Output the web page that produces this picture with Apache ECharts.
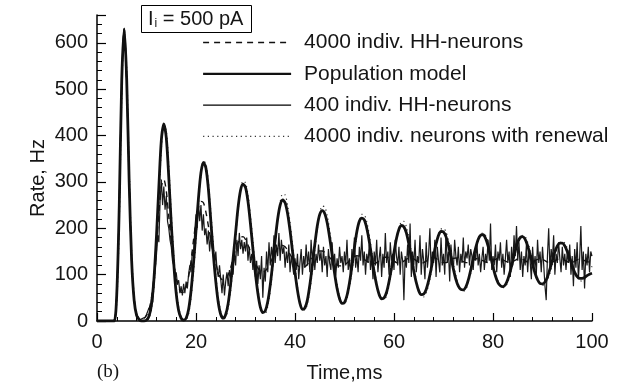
<!DOCTYPE html>
<html>
<head>
<meta charset="utf-8">
<script src="https://cdn.jsdelivr.net/npm/echarts@6/dist/echarts.min.js"></script>
<style>
  html, body { margin: 0; padding: 0; background: #fff; }
  #main { width: 631px; height: 388px; }
</style>
</head>
<body>
<div id="main"></div>
<script>
// time steps (ms) of the sampled curves
var step05 = 0.5;
var step025 = 0.25;

// Population model (thick), every 0.5 ms from 0 to 100
var popModel = [
  0,0,0,0,0,0,0,0,60,250,
  520,630,520,300,130,45,12,3,0,0,
  2,10,35,90,180,290,390,425,395,310,
  210,125,60,22,6,2,6,25,65,125,
  195,265,320,342,330,285,215,145,85,40,
  14,6,14,38,80,135,190,245,282,295,
  288,258,210,155,103,60,30,18,22,42,
  78,125,175,220,250,261,255,232,195,150,
  105,66,38,25,28,45,78,120,165,205,
  230,238,232,212,180,142,103,70,48,38,
  40,55,82,118,158,193,215,222,218,200,
  172,138,105,77,57,48,50,62,85,115,
  148,178,198,206,203,190,166,137,108,83,
  65,57,58,68,87,112,140,166,185,193,
  192,182,163,138,112,90,75,68,67,73,
  88,110,135,158,176,185,186,178,162,140,
  117,97,83,76,74,78,90,108,130,152,
  170,180,182,176,162,143,122,103,89,81,
  80,84,95,112,131,149,162,168,168,162,
  150,135,119,105,96,92,92,94,98,101,
  103
];

// 4000 indiv. HH-neurons (dashed), every 0.5 ms
var hh4000 = [
  0,0,0,0,0,0,0,0,60,250,
  520,630,515,300,130,45,15,6,4,6,
  12,25,50,95,160,235,290,305,280,225,
  170,125,92,72,62,62,72,95,130,175,
  215,245,258,255,235,205,175,148,125,105,
  92,88,90,100,115,135,155,170,180,182,
  176,164,150,136,124,114,108,106,108,115,
  125,137,148,157,162,163,160,153,144,135,
  127,120,116,115,117,122,129,136,143,148,
  151,151,148,143,137,131,125,121,119,119,
  121,125,130,135,139,141,140,137,133,129,
  126,124,124,126,130,134,137,138,136,133,
  129,126,125,126,129,133,136,136,134,130,
  127,125,126,129,133,136,137,135,131,128,
  126,126,128,132,135,136,134,131,128,126,
  126,128,131,134,135,133,130,127,126,127,
  130,133,135,135,132,129,127,126,128,131,
  134,135,133,130,127,126,127,130,133,134,
  133,130,127,126,127,130,133,135,134,131,
  128,126,126,129,132,134,133,130,128,127,
  128
];

// 400 indiv. HH-neurons (thin, noisy), every 0.25 ms
var hh400 = [
  0,0,0,0,0,0,0,0,0,0,0,0,0,0,2,15,60,140,250,390,
  520,605,630,600,515,410,300,205,130,80,45,25,14,8,5,3,4,6,3,8,
  14,10,28,22,48,40,80,110,140,185,170,260,305,250,290,240,270,215,200,175,
  160,130,120,95,105,80,88,60,75,55,80,60,85,70,100,120,105,150,140,195,
  230,200,255,215,250,195,230,185,200,165,195,150,185,160,140,120,150,110,95,120,
  90,60,100,55,85,105,75,110,90,125,100,150,120,175,140,190,155,175,145,170,
  150,180,130,160,125,145,110,140,95,130,80,120,90,140,50,115,85,150,105,170,
  120,160,135,185,125,165,140,190,130,175,145,160,115,150,125,165,105,140,120,100,
  135,110,145,90,125,155,100,140,115,165,120,150,105,175,130,155,110,145,125,165,
  130,150,105,160,120,140,95,155,125,110,170,120,145,100,135,115,160,125,140,105,
  150,120,175,110,135,95,155,125,180,115,140,105,160,130,185,120,150,100,145,125,
  165,110,140,90,150,120,175,105,135,160,95,145,115,190,125,150,100,170,130,145,
  110,175,140,120,160,100,150,130,45,140,115,165,125,210,95,150,120,175,105,140,
  125,185,100,155,130,90,170,115,145,200,110,150,125,175,95,160,130,105,180,120,
  145,100,190,125,150,85,165,130,110,175,140,120,160,105,145,125,180,115,150,135,
  165,120,155,140,110,150,130,170,120,145,105,135,160,110,145,125,175,130,210,110,
  140,120,165,105,150,130,170,115,145,100,135,175,125,150,95,160,120,185,140,205,
  130,170,110,150,95,140,120,165,105,150,130,90,160,115,140,100,175,125,150,105,
  160,120,75,45,140,200,110,155,130,185,100,145,125,170,135,105,160,120,145,110,
  150,125,165,100,140,75,155,115,170,90,135,205,110,150,70,145,120,160,105,150,
  140
];

// 4000 indiv. neurons with renewal (dotted), every 0.5 ms
var renewal = [
  0,0,0,0,0,0,0,0,40,210,
  480,625,545,330,150,55,16,4,0,0,
  0,6,25,70,150,260,370,425,410,335,
  235,145,75,30,9,2,3,15,50,105,
  175,250,315,345,340,300,235,165,100,50,
  20,6,8,28,65,118,178,238,282,302,
  298,272,228,172,118,70,36,18,16,32,
  65,112,165,218,256,274,272,250,212,165,
  116,74,42,26,24,38,66,106,152,198,
  232,248,246,228,196,156,115,80,54,40,
  38,48,72,106,146,186,215,230,229,214,
  186,150,114,83,60,48,46,55,76,106,
  140,174,200,214,215,203,180,150,118,88,
  66,54,52,60,78,104,134,163,186,198,
  200,192,174,150,123,98,79,68,64,68,
  82,103,128,154,174,187,190,185,170,149,
  126,104,87,76,72,74,84,101,123,146,
  166,180,185,182,170,152,131,110,93,82,
  77,79,88,103,122,142,158,168,172,168,
  157,141,124,108,95,88,86,90,98,108,
  118
];

var seriesNames = [
  '4000 indiv. HH-neurons',
  'Population model',
  '400 indiv. HH-neurons',
  '4000 indiv. neurons with renewal'
];

function pairs(vals, dt){
  var out = [];
  for (var i = 0; i < vals.length; i++) {
    out.push([+(i * dt).toFixed(2), vals[i]]);
  }
  return out;
}

var FONT = '"Liberation Sans", Arial, sans-serif';
var INK = '#151515';

var chart = echarts.init(document.getElementById('main'), null, { renderer: 'canvas' });

var option = {
  animation: false,
  backgroundColor: '#fff',
  textStyle: { fontFamily: FONT },
  grid: { left: 97, right: 39, top: 15, bottom: 67 },
  title: {
    text: '{a|I}{s|i}{a| = 500 pA}',
    left: 141,
    top: 4,
    padding: [4, 8, 3, 7],
    borderColor: '#000',
    borderWidth: 1,
    textStyle: {
      rich: {
        a: { fontSize: 20, fontWeight: 'normal', fontFamily: FONT, color: INK, lineHeight: 22 },
        s: { fontSize: 12, fontWeight: 'normal', fontFamily: FONT, color: INK, padding: [10, 0, 0, 1] }
      }
    }
  },
  legend: {
    orient: 'vertical',
    left: 202,
    top: 32,
    padding: 0,
    itemWidth: 88,
    itemHeight: 21,
    itemGap: 10.3,
    data: [
      { name: seriesNames[0], lineStyle: { width: 1.4 } },
      { name: seriesNames[1], lineStyle: { width: 2.2 } },
      { name: seriesNames[2], lineStyle: { width: 1.4, color: '#000' } },
      { name: seriesNames[3], lineStyle: { width: 1.2 } }
    ],
    itemStyle: { opacity: 0 },
    textStyle: { fontSize: 21, lineHeight: 21, color: INK, fontFamily: FONT, padding: [0, 0, 0, 8] }
  },
  xAxis: {
    type: 'value',
    min: 0,
    max: 100,
    interval: 20,
    name: 'Time,ms',
    nameLocation: 'middle',
    nameGap: 42,
    nameTextStyle: { fontSize: 20, color: INK, fontFamily: FONT },
    axisLine: { lineStyle: { color: '#000', width: 1.5 } },
    axisTick: { inside: true, length: 8, lineStyle: { color: '#000', width: 1.2 } },
    minorTick: { show: true, splitNumber: 5, length: 4, lineStyle: { color: '#000', width: 1 } },
    axisLabel: { fontSize: 20, color: INK, margin: 11, fontFamily: FONT },
    splitLine: { show: false }
  },
  yAxis: [{
    type: 'value',
    min: 0,
    max: 660,
    interval: 20,
    axisLine: { show: true, lineStyle: { color: '#000', width: 1.5 } },
    axisTick: { inside: true, length: 5, lineStyle: { color: '#000', width: 1 } },
    axisLabel: {
      fontSize: 20, color: INK, margin: 9, fontFamily: FONT,
      formatter: function (v) { return (v % 100 === 0 && v <= 600) ? String(v) : ''; }
    },
    splitLine: { show: false }
  }, {
    type: 'value',
    min: 0,
    max: 660,
    interval: 100,
    position: 'left',
    axisLine: { show: false },
    axisTick: { show: true, inside: true, length: 9, lineStyle: { color: '#000', width: 1.2 } },
    axisLabel: { show: false },
    splitLine: { show: false }
  }],
  graphic: [
    {
      type: 'text', x: 38, y: 178, rotation: Math.PI / 2,
      style: { text: 'Rate, Hz', fill: INK, font: '20px "Liberation Sans", Arial, sans-serif', align: 'center', verticalAlign: 'middle' }
    },
    {
      type: 'text', x: 97, y: 372,
      style: { text: '(b)', fill: INK, font: '19px "Liberation Serif", "Times New Roman", serif', align: 'left', verticalAlign: 'middle' }
    }
  ],
  series: [
    {
      name: seriesNames[2], type: 'line', symbol: 'none', z: 2,
      data: pairs(hh400, step025),
      itemStyle: { color: '#1a1a1a' },
      lineStyle: { color: '#1a1a1a', width: 1.2 }
    },
    {
      name: seriesNames[0], type: 'line', symbol: 'none', smooth: 0.3, z: 3,
      data: pairs(hh4000, step05),
      itemStyle: { color: '#111' },
      lineStyle: { color: '#111', width: 1.4, type: [6, 5] }
    },
    {
      name: seriesNames[3], type: 'line', symbol: 'none', smooth: 0.3, z: 3,
      data: pairs(renewal, step05),
      itemStyle: { color: '#333' },
      lineStyle: { color: '#333', width: 1.2, type: [1.2, 3.5] }
    },
    {
      name: seriesNames[1], type: 'line', symbol: 'none', smooth: 0.3, z: 4,
      data: pairs(popModel, step05),
      itemStyle: { color: '#111' },
      lineStyle: { color: '#111', width: 2.8 }
    }
  ]
};

chart.setOption(option);
</script>
</body>
</html>
